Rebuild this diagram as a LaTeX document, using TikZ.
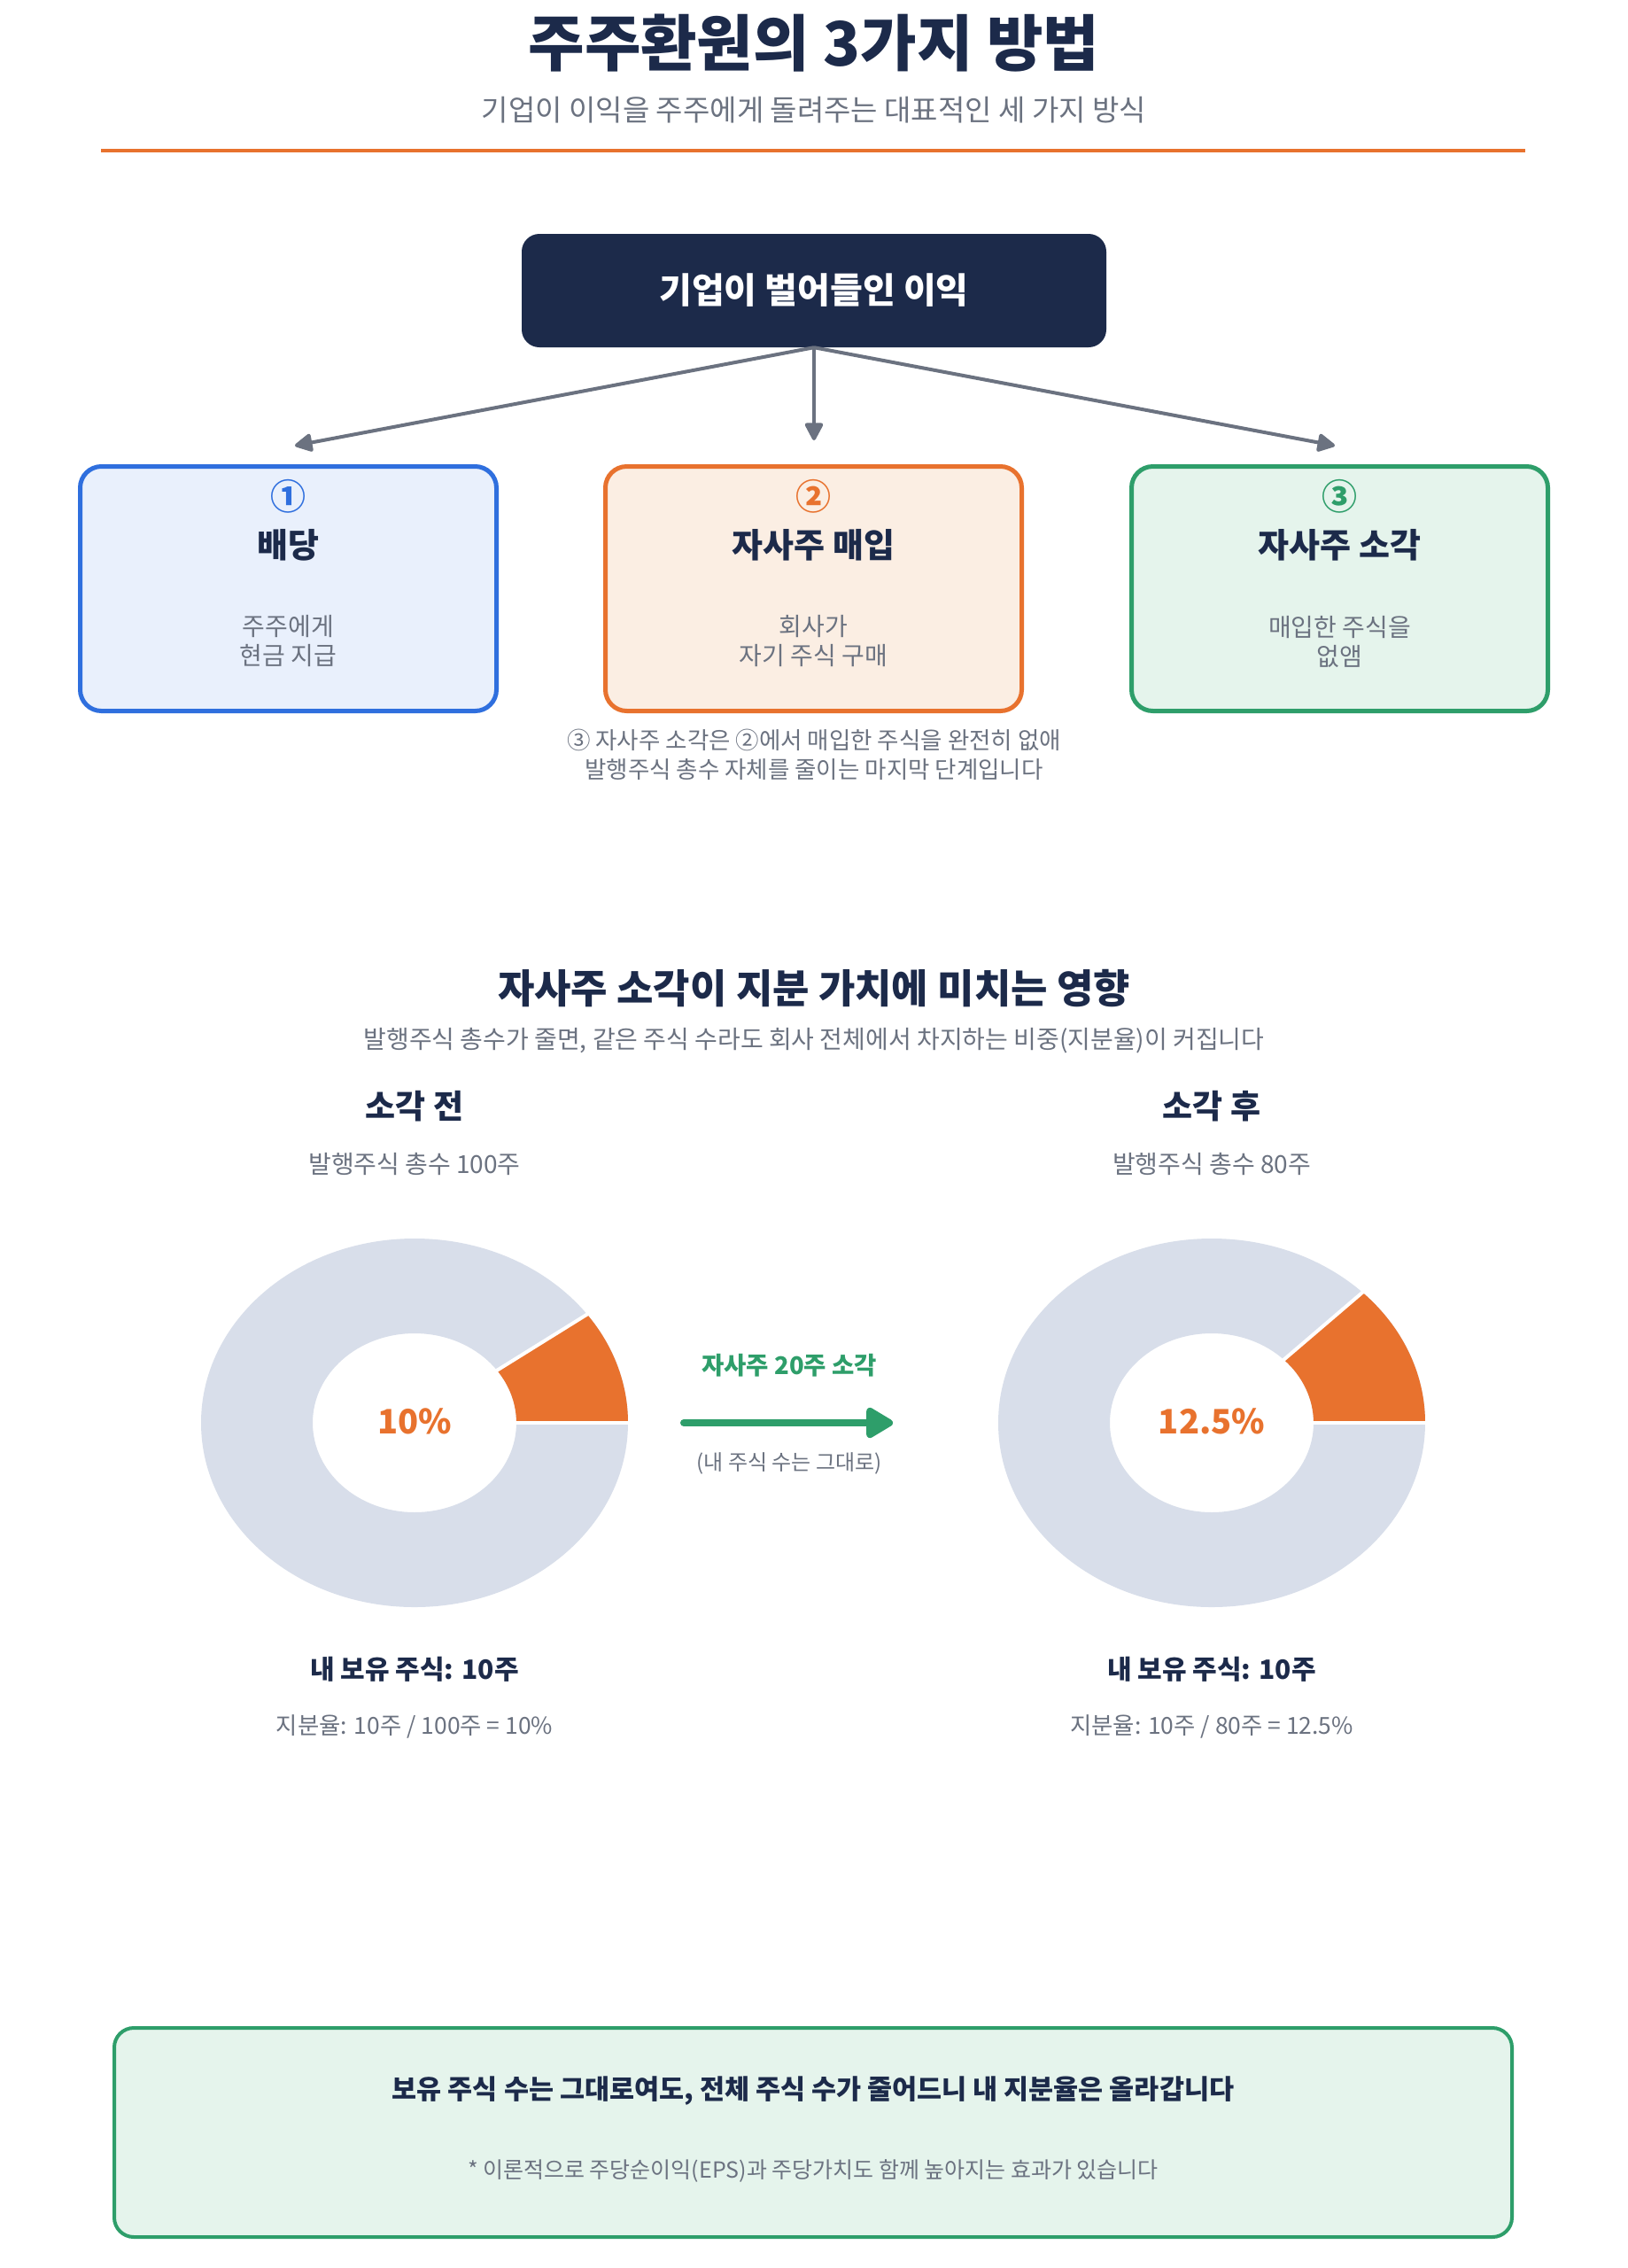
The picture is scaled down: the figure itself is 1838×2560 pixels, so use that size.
\documentclass[tikz,border=0pt]{standalone}
\usepackage{fontspec}
\setmainfont{Noto Sans CJK KR}
\usetikzlibrary{arrows.meta,calc}
\definecolor{navy}{HTML}{1C2A4A}
\definecolor{txtgray}{HTML}{6B7280}
\definecolor{orng}{HTML}{E8722E}
\definecolor{blu}{HTML}{2F6FDE}
\definecolor{grn}{HTML}{2E9E6A}
\definecolor{blufill}{HTML}{E9F0FC}
\definecolor{orngfill}{HTML}{FBEEE3}
\definecolor{grnfill}{HTML}{E5F4EC}
\definecolor{dgray}{HTML}{D8DEEA}
\newcommand\fz[2]{\fontsize{#1pt}{#2pt}\selectfont}
\tikzset{
  lbl/.style={inner sep=0pt, align=center},
  card/.style={rounded corners=24pt, line width=5pt, minimum width=470pt, minimum height=276pt, inner sep=0pt},
  flowarr/.style={draw=txtgray, line width=4pt, -{Triangle[round,length=22pt,width=22pt]}},
}
\begin{document}
\begin{tikzpicture}[x=1pt,y=-1pt]
\useasboundingbox (0,0) rectangle (1838,2560);
\fill[white] (0,0) rectangle (1838,2560);
% header
\node[lbl, text=navy, font=\fz{69}{80}\bfseries] (title) at (919,49) {주주환원의 3가지 방법};
\node[lbl, text=txtgray, font=\fz{33}{40}] (subtitle) at (919,124) {기업이 이익을 주주에게 돌려주는 대표적인 세 가지 방식};
\coordinate (hl1) at (114,170);
\coordinate (hl2) at (1722,170);
\draw[orng, line width=4.5pt] (hl1) -- (hl2);
% top box
\node[fill=navy, rounded corners=20pt, minimum width=660pt, minimum height=128pt, inner sep=0pt, text=white, font=\fz{40}{46}\bfseries] (top) at (919,328) {기업이 벌어들인 이익};
% cards
\node[card, draw=blu, fill=blufill] (b1) at (325.5,664.5) {};
\node[card, draw=orng, fill=orngfill] (b2) at (918.5,664.5) {};
\node[card, draw=grn, fill=grnfill] (b3) at (1512.5,664.5) {};
\coordinate (a1) at (333,503);
\coordinate (a2) at (919,497);
\coordinate (a3) at (1507,503);
\draw[flowarr] (top.south) -- (a1);
\draw[flowarr] (top.south) -- (a2);
\draw[flowarr] (top.south) -- (a3);
\node[lbl, text=blu, font=\fz{40}{44}\bfseries] (n1) at (325.5,560) {①};
\node[lbl, text=orng, font=\fz{40}{44}\bfseries] (n2) at (918.5,560) {②};
\node[lbl, text=grn, font=\fz{40}{44}\bfseries] (n3) at (1512.5,560) {③};
\node[lbl, text=navy, font=\fz{38}{44}\bfseries] (t1) at (325.5,615) {배당};
\node[lbl, text=navy, font=\fz{38}{44}\bfseries] (t2) at (918.5,615) {자사주 매입};
\node[lbl, text=navy, font=\fz{38}{44}\bfseries] (t3) at (1512.5,615) {자사주 소각};
\node[lbl, text=txtgray, font=\fz{28}{33}] (d1) at (325.5,724) {주주에게\\현금 지급};
\node[lbl, text=txtgray, font=\fz{28}{33}] (d2) at (918.5,724) {회사가\\자기 주식 구매};
\node[lbl, text=txtgray, font=\fz{28}{33}] (d3) at (1512.5,724) {매입한 주식을\\없앰};
\node[lbl, text=txtgray, font=\fz{26.5}{33}] (note) at (919,852) {③ 자사주 소각은 ②에서 매입한 주식을 완전히 없애\\발행주식 총수 자체를 줄이는 마지막 단계입니다};
% section 2
\node[lbl, text=navy, font=\fz{45}{52}\bfseries] (s2title) at (919,1116) {자사주 소각이 지분 가치에 미치는 영향};
\node[lbl, text=txtgray, font=\fz{28}{33}] (s2sub) at (919,1175) {발행주식 총수가 줄면, 같은 주식 수라도 회사 전체에서 차지하는 비중(지분율)이 커집니다};
\node[lbl, text=navy, font=\fz{37}{42}\bfseries] (bt) at (468,1249) {소각 전};
\node[lbl, text=navy, font=\fz{37}{42}\bfseries] (at) at (1368,1249) {소각 후};
\node[lbl, text=txtgray, font=\fz{28}{33}] (bs) at (468,1314) {발행주식 총수 100주};
\node[lbl, text=txtgray, font=\fz{28}{33}] (as) at (1368,1314) {발행주식 총수 80주};
% donut left
\begin{scope}[shift={(468,1606)}]
\fill[dgray, even odd rule] (0,0) ellipse [x radius=241, y radius=208] (0,0) ellipse [x radius=115, y radius=101];
\fill[orng] (0:241 and 208) arc[start angle=0, end angle=-36, x radius=241, y radius=208] -- (-36:115 and 101) arc[start angle=-36, end angle=0, x radius=115, y radius=101] -- cycle;
\draw[white, line width=4pt] (0:113 and 99) -- (0:244 and 211);
\draw[white, line width=4pt] (-36:113 and 99) -- (-36:244 and 211);
\end{scope}
% donut right
\begin{scope}[shift={(1368,1606)}]
\fill[dgray, even odd rule] (0,0) ellipse [x radius=241, y radius=208] (0,0) ellipse [x radius=115, y radius=101];
\fill[orng] (0:241 and 208) arc[start angle=0, end angle=-45, x radius=241, y radius=208] -- (-45:115 and 101) arc[start angle=-45, end angle=0, x radius=115, y radius=101] -- cycle;
\draw[white, line width=4pt] (0:113 and 99) -- (0:244 and 211);
\draw[white, line width=4pt] (-45:113 and 99) -- (-45:244 and 211);
\end{scope}
\node[lbl, text=orng, font=\fz{38}{46}\bfseries] (pl) at (468,1604) {10\%};
\node[lbl, text=orng, font=\fz{38}{46}\bfseries] (pr) at (1368,1604) {12.5\%};
% middle arrow
\coordinate (m1) at (772,1606);
\coordinate (m2) at (1008,1606);
\draw[grn, line width=8pt, line cap=round, -{Triangle[round,length=34pt,width=38pt]}] (m1) -- (m2);
\node[lbl, text=grn, font=\fz{27.5}{32}\bfseries] (ml) at (891,1541) {자사주 20주 소각};
\node[lbl, text=txtgray, font=\fz{24}{28}] (ms) at (891,1652) {(내 주식 수는 그대로)};
% below donuts
\node[lbl, text=navy, font=\fz{30}{36}\bfseries] (hl) at (468,1884) {내 보유 주식: 10주};
\node[lbl, text=navy, font=\fz{30}{36}\bfseries] (hr) at (1368,1884) {내 보유 주식: 10주};
\node[lbl, text=txtgray, font=\fz{26.4}{32}] (rl) at (468,1949) {지분율: 10주 / 100주 = 10\%};
\node[lbl, text=txtgray, font=\fz{26.4}{32}] (rr) at (1368,1949) {지분율: 10주 / 80주 = 12.5\%};
% bottom box
\node[draw=grn, fill=grnfill, line width=4pt, rounded corners=22pt, minimum width=1578pt, minimum height=236pt, inner sep=0pt] (bottom) at (918,2407) {};
\node[lbl, text=navy, font=\fz{30.5}{36}\bfseries] (bm) at (918,2360) {보유 주식 수는 그대로여도, 전체 주식 수가 줄어드니 내 지분율은 올라갑니다};
\node[lbl, text=txtgray, font=\fz{25}{30}] (bn) at (918,2450) {* 이론적으로 주당순이익(EPS)과 주당가치도 함께 높아지는 효과가 있습니다};
\end{tikzpicture}
\end{document}
